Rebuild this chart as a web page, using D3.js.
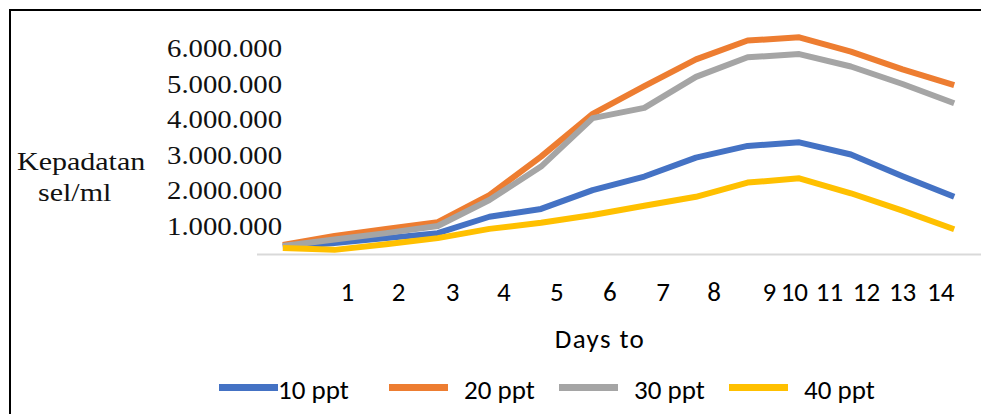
<!DOCTYPE html>
<html><head><meta charset="utf-8">
<script src="https://cdn.jsdelivr.net/npm/d3@7"></script>
<style>body{margin:0;background:#fff}svg{display:block}</style>
</head><body><svg id="c" width="981" height="414"></svg>
<script>
// ---- data ----
const categories = [1,2,3,4,5,6,7,8,9,10,11,12,13,14];
const series10 = [210000,320000,460000,600000,1060000,1280000,1810000,2190000,2720000,3050000,3150000,2810000,2200000,1620000];
const series20 = [270000,520000,720000,910000,1670000,2750000,3950000,4730000,5480000,6010000,6100000,5700000,5200000,4760000];
const series30 = [240000,420000,600000,800000,1530000,2470000,3830000,4120000,4990000,5540000,5630000,5280000,4790000,4250000];
const series40 = [180000,130000,290000,460000,720000,890000,1110000,1370000,1620000,2020000,2140000,1720000,1230000,710000];
const seriesNames = ["10 ppt","20 ppt","30 ppt","40 ppt"];
const yTicks = [1000000,2000000,3000000,4000000,5000000,6000000];
const xTickLabels = ["1","2","3","4","5","6","7","8","9","10","11","12","13","14"];
const xTickPos = [2.242,3.231,4.279,5.269,6.297,7.325,8.354,9.343,10.41,10.895,11.574,12.292,12.991,13.728];
const yTitle = ["Kepadatan","sel/ml"];
const xTitle = "Days to";

// ---- drawing ----
const colors = ["#4472C4","#ED7D31","#A5A5A5","#FFC000"];
const allSeries = [series10, series20, series30, series40];
const svg = d3.select("#c");
const sans = "Carlito, 'Liberation Sans', Arial, sans-serif";
const serif = "'Liberation Serif', 'Times New Roman', serif";

svg.append("rect").attr("x",10).attr("y",10).attr("width",1000).attr("height",500)
  .attr("fill","none").attr("stroke","#000").attr("stroke-width",2);

const x = d3.scalePoint().domain(categories).range([257,980]).padding(0.5);
const y = d3.scaleLinear().domain([0,6000000]).range([254.5,254.5-6*35.6]);

// axis line
svg.append("line").attr("x1",257).attr("x2",981).attr("y1",y(0)).attr("y2",y(0))
  .attr("stroke","#D9D9D9").attr("stroke-width",2);

// y tick labels
const loc = d3.formatLocale({decimal:",",thousands:".",grouping:[3],currency:["",""]});
const fmt = loc.format(",");
const stretch = f => function(){ const w=this.getComputedTextLength(); this.setAttribute("textLength",w*f); this.setAttribute("lengthAdjust","spacingAndGlyphs"); };
svg.append("g").selectAll("text").data(yTicks).join("text")
  .attr("x",167).attr("y",d=>y(d)+16)
  .attr("font-family",serif).attr("font-size",25).attr("fill","#111")
  .text(d=>fmt(d))
  .each(stretch(1.15));

// y title
const yt = svg.append("g");
yt.append("text").attr("x",17).attr("y",170).attr("font-family",serif).attr("font-size",25).attr("fill","#111").text(yTitle[0]).each(stretch(1.2));
yt.append("text").attr("x",38).attr("y",201).attr("font-family",serif).attr("font-size",25).attr("fill","#111").text(yTitle[1]).each(stretch(1.2));

// x tick labels via axis
const xl = d3.scaleLinear().domain([1,14]).range([x(1),x(14)]);
const xAxis = d3.axisBottom(xl).tickValues(xTickPos).tickFormat((d,i)=>xTickLabels[i]).tickSize(0);
const gx = svg.append("g").attr("transform","translate(0,301)").call(xAxis);
gx.select(".domain").remove();
gx.selectAll("text").attr("font-family",sans).attr("font-size",27).attr("fill","#000").attr("y",0).attr("dy",0);

// x title
svg.append("text").attr("x",600).attr("y",348).attr("text-anchor","middle")
  .attr("font-family",sans).attr("font-size",27).attr("letter-spacing",1.4).attr("fill","#000").text(xTitle);

// lines
const line = d3.line().x((d,i)=>x(categories[i])).y(d=>y(d));
svg.append("g").selectAll("path").data(allSeries).join("path")
  .attr("d",line).attr("fill","none").attr("stroke",(d,i)=>colors[i])
  .attr("stroke-width",6).attr("stroke-linejoin","round").attr("stroke-linecap","butt");

// legend
const lg = svg.append("g").selectAll("g").data(seriesNames).join("g")
  .attr("transform",(d,i)=>`translate(${219+i*170},0)`);
lg.append("line").attr("x1",0).attr("x2",59).attr("y1",387.5).attr("y2",387.5)
  .attr("stroke",(d,i)=>colors[i]).attr("stroke-width",7);
lg.append("text").attr("x",(d,i)=>59+(i===0?0:16)).attr("y",399)
  .attr("font-family",sans).attr("font-size",27).attr("fill","#000").text(d=>d);
</script>
</body></html>
